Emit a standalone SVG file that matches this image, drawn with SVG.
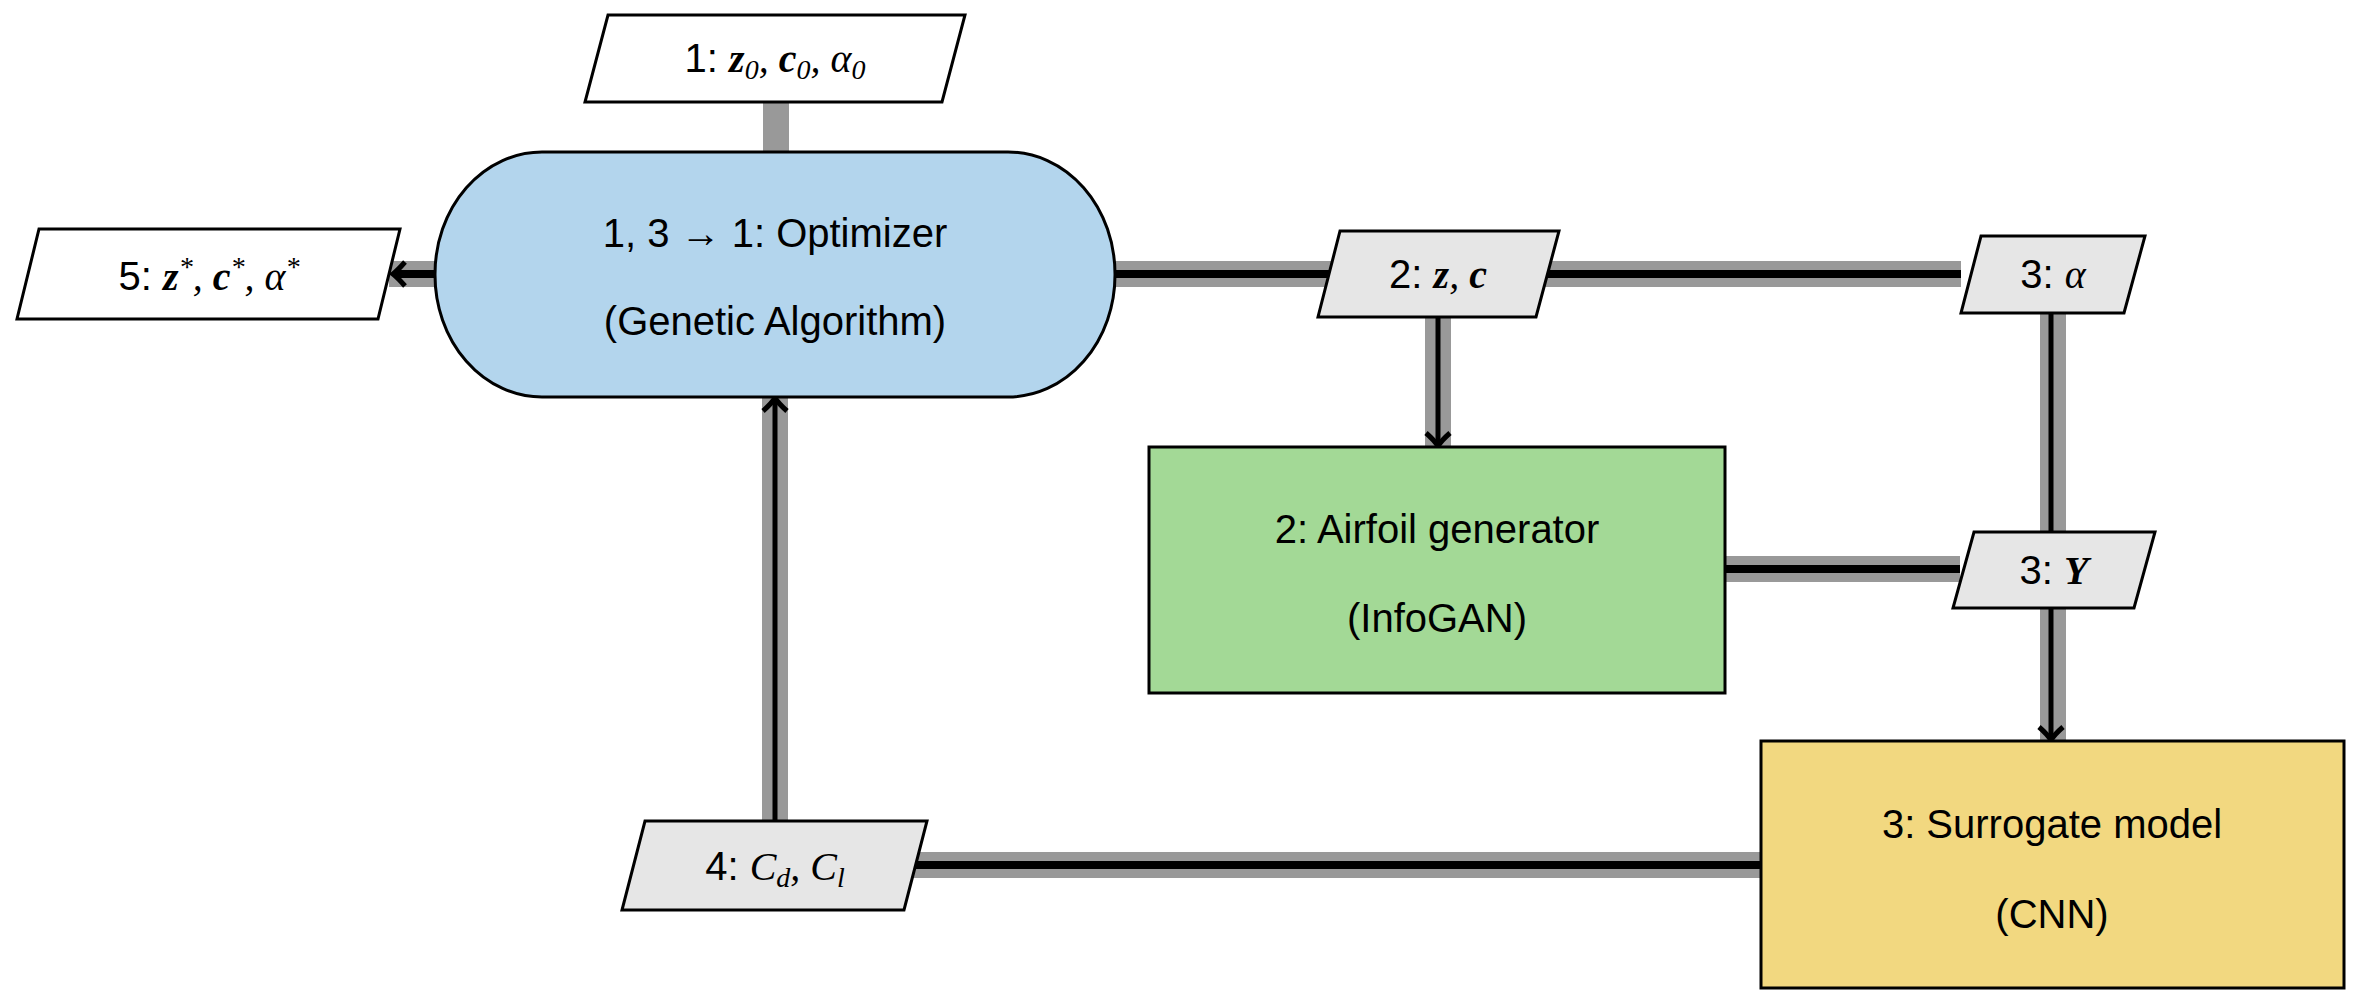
<svg xmlns="http://www.w3.org/2000/svg" width="2360" height="1006" viewBox="0 0 2360 1006">
<style>
.t{font-family:"Liberation Sans","DejaVu Sans",sans-serif;font-size:40px;text-anchor:middle;fill:#000}
.m{font-family:"Liberation Serif",serif;font-style:italic}
.b{font-weight:bold}
.band{stroke:#999;stroke-width:26;fill:none}
.blk{stroke:#000;stroke-width:8;fill:none}
.thin{stroke:#000;stroke-width:5;fill:none}
.io{stroke:#000;stroke-width:3}
</style>
<defs>
<marker id="ah" viewBox="0 0 10 10" refX="8" refY="5" markerWidth="5" markerHeight="5" orient="auto" markerUnits="userSpaceOnUse" style="overflow:visible">
<path d="M-4,-7 Q2,-1 8,5 Q2,11 -4,17" transform="scale(1)" stroke="#000" stroke-width="4" fill="none"/>
</marker>
</defs>
<g id="connectors">
<line class="band" x1="776" y1="102" x2="776" y2="152"/>
<line class="band" x1="389" y1="274" x2="435" y2="274"/>
<line class="band" x1="1115" y1="274" x2="1961" y2="274"/>
<line class="band" x1="1438" y1="317" x2="1438" y2="447"/>
<line class="band" x1="2053" y1="313" x2="2053" y2="532"/>
<line class="band" x1="1725" y1="569" x2="1960" y2="569"/>
<line class="band" x1="2053" y1="608" x2="2053" y2="741"/>
<line class="band" x1="910" y1="865" x2="1761" y2="865"/>
<line class="band" x1="775" y1="821" x2="775" y2="397"/>
<line class="blk" x1="435" y1="274" x2="395" y2="274"/>
<path d="M405,262 Q398,270 393,274 Q398,278 405,286" stroke="#000" stroke-width="5" fill="none"/>
<line class="blk" x1="1115" y1="274" x2="1961" y2="274"/>
<line class="thin" x1="1438" y1="317" x2="1438" y2="442"/>
<path d="M1426,433 Q1434,440 1438,446 Q1442,440 1450,433" stroke="#000" stroke-width="5" fill="none"/>
<line class="thin" x1="2051" y1="313" x2="2051" y2="532"/>
<line class="blk" x1="1725" y1="569" x2="1960" y2="569"/>
<line class="thin" x1="2051" y1="608" x2="2051" y2="736"/>
<path d="M2039,727 Q2047,734 2051,740 Q2055,734 2063,727" stroke="#000" stroke-width="5" fill="none"/>
<line class="blk" x1="910" y1="865" x2="1761" y2="865"/>
<line class="thin" x1="775" y1="821" x2="775" y2="402"/>
<path d="M763,411 Q771,404 775,398 Q779,404 787,411" stroke="#000" stroke-width="5" fill="none"/>
</g>
<g id="in1">
<polygon class="io" points="608,15 965,15 942,102 585,102" fill="#fff"/>
<text class="t" x="775" y="72">1: <tspan class="m b">z</tspan><tspan class="m" font-size="28" dy="7">0</tspan><tspan class="m" dy="-7">, </tspan><tspan class="m b">c</tspan><tspan class="m" font-size="28" dy="7">0</tspan><tspan class="m" dy="-7">, α</tspan><tspan class="m" font-size="28" dy="7">0</tspan></text>
</g>
<g id="out5">
<polygon class="io" points="39,229 400,229 378,319 17,319" fill="#fff"/>
<text class="t" x="209" y="290">5: <tspan class="m b">z</tspan><tspan class="m" font-size="28" dy="-14">*</tspan><tspan class="m" dy="14">, </tspan><tspan class="m b">c</tspan><tspan class="m" font-size="28" dy="-14">*</tspan><tspan class="m" dy="14">, α</tspan><tspan class="m" font-size="28" dy="-14">*</tspan></text>
</g>
<g id="optimizer">
<rect x="435" y="152" width="680" height="245" rx="107" ry="122" fill="#b3d5ed" stroke="#000" stroke-width="3"/>
<text class="t" x="775" y="247">1, 3 → 1: Optimizer</text>
<text class="t" x="775" y="335">(Genetic Algorithm)</text>
</g>
<g id="d_zc">
<polygon class="io" points="1340,231 1559,231 1536,317 1318,317" fill="#e6e6e6"/>
<text class="t" x="1438" y="288">2: <tspan class="m b">z</tspan><tspan class="m">, </tspan><tspan class="m b">c</tspan></text>
</g>
<g id="d_alpha">
<polygon class="io" points="1981,236 2145,236 2124,313 1961,313" fill="#e6e6e6"/>
<text class="t" x="2053" y="288">3: <tspan class="m">α</tspan></text>
</g>
<g id="airfoil">
<rect x="1149" y="447" width="576" height="246" fill="#a3d996" stroke="#000" stroke-width="3"/>
<text class="t" x="1437" y="543">2: Airfoil generator</text>
<text class="t" x="1437" y="632">(InfoGAN)</text>
</g>
<g id="d_Y">
<polygon class="io" points="1974,532 2155,532 2134,608 1953,608" fill="#e6e6e6"/>
<text class="t" x="2054" y="584">3: <tspan class="m b">Y</tspan></text>
</g>
<g id="surrogate">
<rect x="1761" y="741" width="583" height="247" fill="#f2d880" stroke="#000" stroke-width="3"/>
<text class="t" x="2052" y="838">3: Surrogate model</text>
<text class="t" x="2052" y="928">(CNN)</text>
</g>
<g id="d_C">
<polygon class="io" points="645,821 927,821 904,910 622,910" fill="#e6e6e6"/>
<text class="t" x="775" y="880">4: <tspan class="m">C</tspan><tspan class="m" font-size="28" dy="7">d</tspan><tspan class="m" dy="-7">, C</tspan><tspan class="m" font-size="28" dy="7">l</tspan></text>
</g>
</svg>
